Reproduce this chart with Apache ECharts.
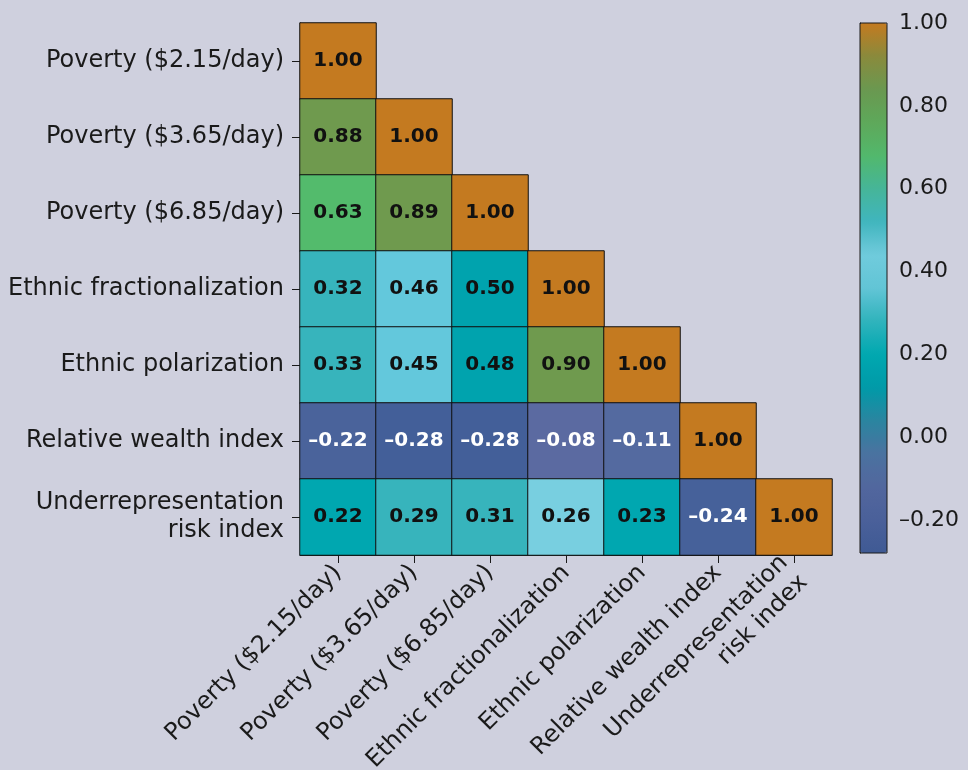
<!DOCTYPE html>
<html>
<head>
<meta charset="utf-8">
<script src="https://cdn.jsdelivr.net/npm/echarts@6/dist/echarts.min.js"></script>
<style>
  html, body { margin: 0; padding: 0; background: #cfd0de; }
  #chart { width: 968px; height: 770px; }
</style>
</head>
<body>
<div id="chart"></div>
<script>
// Variables in the correlation matrix (rows top to bottom, columns left to right)
const variables = [
  'Poverty ($2.15/day)',
  'Poverty ($3.65/day)',
  'Poverty ($6.85/day)',
  'Ethnic fractionalization',
  'Ethnic polarization',
  'Relative wealth index',
  'Underrepresentation\nrisk index'
];

// Lower-triangle correlation coefficients, one array per row
const rowPoverty215 = [1.00];
const rowPoverty365 = [0.88, 1.00];
const rowPoverty685 = [0.63, 0.89, 1.00];
const rowEthnicFrac = [0.32, 0.46, 0.50, 1.00];
const rowEthnicPol  = [0.33, 0.45, 0.48, 0.90, 1.00];
const rowWealth     = [-0.22, -0.28, -0.28, -0.08, -0.11, 1.00];
const rowUnderrep   = [0.22, 0.29, 0.31, 0.26, 0.23, -0.24, 1.00];
const correlationRows = [rowPoverty215, rowPoverty365, rowPoverty685, rowEthnicFrac, rowEthnicPol, rowWealth, rowUnderrep];

// Colour scale range and tick labels
const scaleMin = -0.28;
const scaleMax = 1.00;
const scaleTicks = [-0.2, 0, 0.2, 0.4, 0.6, 0.8, 1.0];

const FONT = 'DejaVu Sans';
const DASH = '\u2013';
const fmt = v => (v < 0 ? DASH : '') + Math.abs(v).toFixed(2);

// [column, row, value] triples for the heatmap
const cells = [];
correlationRows.forEach((row, r) => row.forEach((v, c) => cells.push([c, r, v])));

const chart = echarts.init(document.getElementById('chart'), null, { renderer: 'canvas' });

const INK = '#1a1a1a';

chart.setOption({
  backgroundColor: '#cfd0de',
  animation: false,
  textStyle: { fontFamily: FONT },
  grid: [
    { left: 300, top: 23, width: 532, height: 532, outerBoundsMode: 'none', containLabel: false },
    { left: 860, top: 23, width: 27, height: 530, show: true, z: 10, outerBoundsMode: 'none', containLabel: false,
      backgroundColor: 'transparent', borderColor: INK, borderWidth: 1 }
  ],
  xAxis: [
    {
      type: 'category', data: variables, gridIndex: 0,
      axisLine: { show: true, lineStyle: { color: INK, width: 1 } },
      axisTick: { show: true, alignWithLabel: true, length: 8, lineStyle: { color: INK, width: 1 } },
      axisLabel: { rotate: 45, interval: 0, fontSize: 24, color: INK, margin: 14, fontFamily: FONT, lineHeight: 28 },
      splitLine: { show: false }
    },
    { type: 'value', gridIndex: 1, show: false, min: 0, max: 1 }
  ],
  yAxis: [
    {
      type: 'category', data: variables, gridIndex: 0, inverse: true,
      axisLine: { show: true, lineStyle: { color: INK, width: 1 } },
      axisTick: { show: true, alignWithLabel: true, length: 8, lineStyle: { color: INK, width: 1 } },
      axisLabel: { interval: 0, fontSize: 24, color: INK, margin: 16, fontFamily: FONT, lineHeight: 28, align: 'right' },
      splitLine: { show: false }
    },
    {
      type: 'value', gridIndex: 1, position: 'right', min: scaleMin, max: scaleMax,
      axisLine: { show: true, lineStyle: { color: INK, width: 1 } },
      axisTick: { show: true, length: 7, customValues: scaleTicks, lineStyle: { color: INK } },
      axisLabel: { customValues: scaleTicks, fontSize: 22, color: INK, margin: 12, fontFamily: FONT,
                   formatter: v => fmt(v) },
      splitLine: { show: false }
    }
  ],
  visualMap: [
    {
      // cell fills
      type: 'piecewise', show: false, seriesIndex: 0, dimension: 2,
      pieces: [
        { gte: -0.30, lt: -0.26, color: '#435f99' },
        { gte: -0.26, lt: -0.23, color: '#46619a' },
        { gte: -0.23, lt: -0.15, color: '#4a639b' },
        { gte: -0.15, lt: -0.10, color: '#546aa0' },
        { gte: -0.10, lt: 0.00, color: '#5b6aa1' },
        { gte: 0.00, lt: 0.25, color: '#00a7b0' },
        { gte: 0.25, lt: 0.28, color: '#78cfe0' },
        { gte: 0.28, lt: 0.40, color: '#37b4bc' },
        { gte: 0.40, lt: 0.47, color: '#63c8dc' },
        { gte: 0.47, lt: 0.55, color: '#00a3ae' },
        { gte: 0.55, lt: 0.75, color: '#53bb6c' },
        { gte: 0.75, lt: 0.95, color: '#6f9a4e' },
        { gte: 0.95, lte: 1.01, color: '#c47a20' }
      ]
    },
    {
      // colour bar
      type: 'continuous', show: true, seriesIndex: 1, calculable: false,
      min: scaleMin, max: scaleMax, left: 860, top: 23, itemWidth: 27, itemHeight: 530,
      padding: 0, text: null, showLabel: false, hoverLink: false,
      inRange: {
        color: ['#3f5a94', '#4a609a', '#52679e', '#4a72a0', '#2a85a0', '#009aa8', '#00a8b0',
                '#30b3bc', '#62c5d6', '#70cbdc', '#40b5be', '#46b598', '#52b86c', '#5ea85a',
                '#6a9850', '#8a8a3c', '#c47a20']
      }
    }
  ],
  series: [
    {
      type: 'heatmap', xAxisIndex: 0, yAxisIndex: 0, data: cells,
      itemStyle: { borderColor: '#111', borderWidth: 1 },
      label: {
        show: true,
        formatter: p => (p.value[2] < 0 ? '{neg|' : '{pos|') + fmt(p.value[2]) + '}',
        rich: {
          pos: { color: '#111', fontSize: 20, fontWeight: 'bold', fontFamily: FONT },
          neg: { color: '#ffffff', fontSize: 20, fontWeight: 'bold', fontFamily: FONT }
        }
      },
      emphasis: { disabled: true }
    },
    { type: 'scatter', xAxisIndex: 1, yAxisIndex: 1, data: [], silent: true }
  ]
});
</script>
</body>
</html>
